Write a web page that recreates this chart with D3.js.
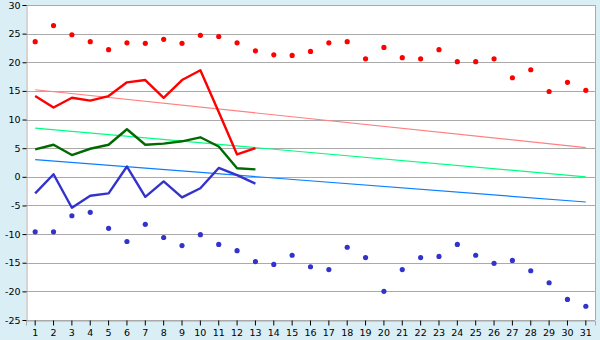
<!DOCTYPE html>
<html>
<head>
<meta charset="utf-8">
<script src="https://cdn.jsdelivr.net/npm/d3@7"></script>
<style>
  body { margin: 0; background: #daeef5; }
  svg { display: block; }
</style>
</head>
<body>
<div id="chart"></div>
<script>
// Dagen van de maand
const days = d3.range(1, 32);

// Waarden
const recordMax = [23.6, 26.4, 24.8, 23.6, 22.2, 23.4, 23.3, 24.0, 23.3, 24.7,
  24.5, 23.4, 22.0, 21.3, 21.2, 21.9, 23.4, 23.6, 20.6, 22.6,
  20.8, 20.6, 22.2, 20.1, 20.1, 20.6, 17.3, 18.7, 14.9, 16.5, 15.1];
const recordMin = [-9.6, -9.6, -6.8, -6.2, -9.0, -11.3, -8.3, -10.6, -12.0, -10.1,
  -11.8, -12.9, -14.8, -15.3, -13.7, -15.7, -16.2, -12.3, -14.1, -20.0,
  -16.2, -14.1, -13.9, -11.8, -13.7, -15.1, -14.6, -16.4, -18.5, -21.4, -22.6];
const maxTemp = [14.1, 12.1, 13.8, 13.3, 14.1, 16.5, 16.9, 13.8, 16.9, 18.6, 11.3, 3.9, 5.0];
const meanTemp = [4.8, 5.6, 3.8, 4.9, 5.6, 8.3, 5.6, 5.8, 6.2, 6.9, 5.3, 1.5, 1.3];
const minTemp = [-2.9, 0.45, -5.4, -3.3, -2.9, 1.8, -3.5, -0.8, -3.6, -2.0, 1.55, 0.3, -1.2];
// Normalen: begin en eind van de maand
const normalDays = [1, 31];
const normalMax = [15.2, 5.1];
const normalMean = [8.5, 0.0];
const normalMin = [3.0, -4.4];
const yTicks = d3.range(-25, 31, 5);

const width = 600, height = 340;
const mLeft = 26, mRight = 595, mTop = 5, mBottom = 320;
const font = "'DejaVu Sans', sans-serif";

const svg = d3.select("#chart").append("svg")
  .attr("width", width)
  .attr("height", height);

const x = d3.scaleBand().domain(days).range([mLeft, mRight]);
const cx = d => x(d) + x.bandwidth() / 2;
const y = d3.scaleLinear().domain([-25, 30]).range([mBottom, mTop]);

// plotvlak
svg.append("rect")
  .attr("x", mLeft).attr("y", mTop)
  .attr("width", mRight - mLeft).attr("height", mBottom - mTop)
  .attr("fill", "#fff");

// rasterlijnen
svg.append("g")
  .selectAll("line")
  .data(yTicks)
  .join("line")
  .attr("x1", mLeft).attr("x2", mRight)
  .attr("y1", d => Math.round(y(d)) + 0.5).attr("y2", d => Math.round(y(d)) + 0.5)
  .attr("stroke", "#aaa");

svg.append("line")
  .attr("x1", mRight + 0.5).attr("x2", mRight + 0.5)
  .attr("y1", mTop).attr("y2", mBottom)
  .attr("stroke", "#aaa");

// assen
const yAxis = svg.append("g")
  .attr("transform", `translate(${mLeft + 0.5},0)`)
  .call(d3.axisLeft(y).tickValues(yTicks).tickFormat(d => String(d)).tickSize(4).tickPadding(2));
const xAxis = svg.append("g")
  .attr("transform", `translate(0,${mBottom + 0.5})`)
  .call(d3.axisBottom(x).tickSize(5).tickPadding(4));
[yAxis, xAxis].forEach(g => {
  g.attr("font-size", 9.5).attr("font-family", font);
  g.select(".domain").attr("stroke", "#aaa");
  g.selectAll(".tick line").attr("stroke", "#000");
  g.selectAll(".tick text").attr("fill", "#000");
});

// normaallijnen
const normLine = d3.line().x((d, i) => cx(normalDays[i])).y(d => y(d));
[[normalMax, "#ff8080"], [normalMean, "#00ff80"], [normalMin, "#0a80ff"]].forEach(([vals, c]) => {
  svg.append("path")
    .attr("d", normLine(vals))
    .attr("fill", "none")
    .attr("stroke", c)
    .attr("stroke-width", 1.2);
});

// temperatuurlijnen
const line = d3.line().x((d, i) => cx(days[i])).y(d => y(d));
[[maxTemp, "#ff0000"], [meanTemp, "#006a00"], [minTemp, "#3333cc"]].forEach(([vals, c]) => {
  svg.append("path")
    .attr("d", line(vals))
    .attr("fill", "none")
    .attr("stroke", c)
    .attr("stroke-width", 2.4)
    .attr("stroke-linejoin", "round");
});

// records
const sym = d3.symbol().type(d3.symbolCircle).size(21);
[[recordMax, "#ff0000"], [recordMin, "#3333cc"]].forEach(([vals, c]) => {
  svg.append("g")
    .selectAll("path")
    .data(vals)
    .join("path")
    .attr("transform", (d, i) => `translate(${cx(days[i])},${y(d)})`)
    .attr("d", sym)
    .attr("fill", c);
});
</script>
</body>
</html>
